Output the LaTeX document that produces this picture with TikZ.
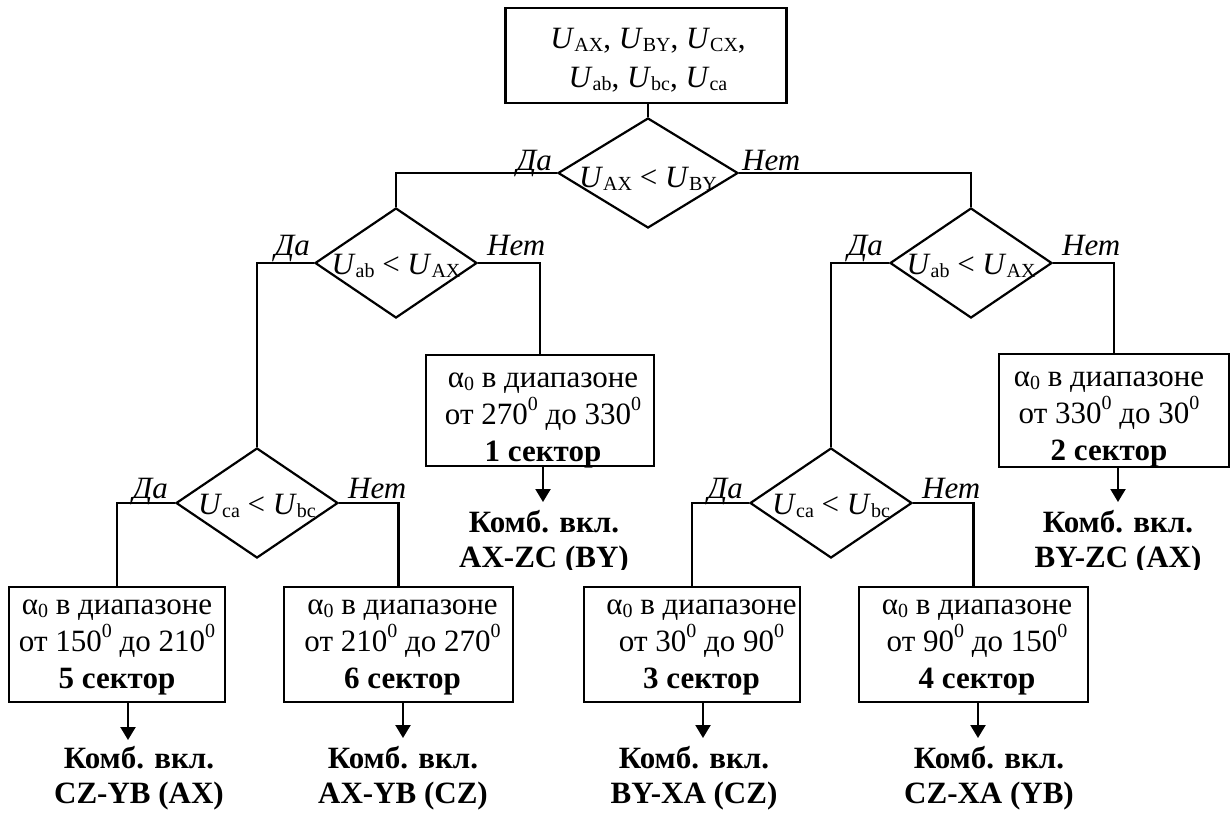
\documentclass[tikz,border=0pt]{standalone}
\usepackage{fontspec}
\setmainfont{Liberation Serif}
\usetikzlibrary{shapes.geometric,arrows.meta}
\newcommand\sbs[1]{\raisebox{-3pt}{\fontsize{20}{20}\selectfont #1}}
\newcommand\dg{\raisebox{13.5pt}{\fontsize{20}{20}\selectfont 0}}
\newcommand\Uv[1]{\textit{U}\sbs{#1}}
\newcommand\dtx[2][11]{\makebox[0pt]{\raisebox{-#1pt}[0pt][0pt]{#2}}}
\begin{document}
\begin{tikzpicture}[x=1pt,y=-1pt,
  every node/.style={inner sep=0pt, font=\fontsize{31}{37}\selectfont},
  ln/.style={line width=2.2pt},
  dec/.style={draw, line width=2.2pt, diamond, minimum width=162pt, minimum height=110pt},
  blk/.style={draw, line width=2.2pt, rectangle},
  txt/.style={align=center, anchor=base},
  lyes/.style={anchor=base east, font=\fontsize{31}{37}\selectfont\itshape},
  lno/.style={anchor=base west, font=\fontsize{31}{37}\selectfont\itshape},
  res/.style={align=center, anchor=base, font=\fontsize{31}{35}\selectfont\bfseries},
  arr/.style={line width=2.2pt, -{Triangle[length=13pt,width=15pt]}}]
\useasboundingbox (0,0) rectangle (1232,812);
\fill[white] (0,0) rectangle (1232,812);
% top box
\node[blk, minimum width=281pt, minimum height=95pt] (top) at (646,55.5) {};
\node[txt, font=\fontsize{31}{39}\selectfont] (toptxt) at (648,87) {\Uv{AX}, \Uv{BY}, \Uv{CX},\\ \Uv{ab}, \Uv{bc}, \Uv{ca}};
% decisions
\node[dec, minimum width=180pt] (d1) at (648,173) {\dtx[14]{\Uv{AX} < \Uv{BY}}};
\node[dec] (d2) at (396,263) {\dtx{\Uv{ab} < \Uv{AX}}};
\node[dec] (d3) at (257,503) {\dtx{\Uv{ca} < \Uv{bc}}};
\node[dec] (d4) at (831,503) {\dtx{\Uv{ca} < \Uv{bc}}};
\node[dec] (d5) at (971,263) {\dtx{\Uv{ab} < \Uv{AX}}};
% boxes
\node[blk, minimum width=228pt, minimum height=111pt] (b1) at (540,410.5) {};
\node[blk, minimum width=230pt, minimum height=113pt] (b2) at (1114,410.5) {};
\node[blk, minimum width=216pt, minimum height=115pt] (b3) at (692,644.5) {};
\node[blk, minimum width=229pt, minimum height=115pt] (b4) at (973.5,644.5) {};
\node[blk, minimum width=216pt, minimum height=115pt] (b5) at (117,644.5) {};
\node[blk, minimum width=229pt, minimum height=115pt] (b6) at (398.5,644.5) {};
\node[txt] (t1) at (543,461) {α\sbs{0} в диапазоне\\от 270\dg\ до 330\dg\\\textbf{1 сектор}};
\node[txt] (t2) at (1109,460) {α\sbs{0} в диапазоне\\от 330\dg\ до 30\dg\\\textbf{2 сектор}};
\node[txt] (t3) at (701.5,688) {α\sbs{0} в диапазоне\\от 30\dg\ до 90\dg\\\textbf{3 сектор}};
\node[txt] (t4) at (977,688) {α\sbs{0} в диапазоне\\от 90\dg\ до 150\dg\\\textbf{4 сектор}};
\node[txt] (t5) at (117,688) {α\sbs{0} в диапазоне\\от 150\dg\ до 210\dg\\\textbf{5 сектор}};
\node[txt] (t6) at (402.5,688) {α\sbs{0} в диапазоне\\от 210\dg\ до 270\dg\\\textbf{6 сектор}};
% results
\begin{scope}
\clip (0,0) rectangle (1232,569);
\node[res] (k1) at (544,567) {Комб. вкл.\\AX-ZC (BY)};
\node[res] (k2) at (1118,567) {Комб. вкл.\\BY-ZC (AX)};
\end{scope}
\node[res] (k3) at (694,803) {Комб. вкл.\\BY-XA (CZ)};
\node[res] (k4) at (989,803) {Комб. вкл.\\CZ-XA (YB)};
\node[res] (k5) at (139,803) {Комб. вкл.\\CZ-YB (AX)};
\node[res] (k6) at (403,803) {Комб. вкл.\\AX-YB (CZ)};
% labels
\node[lyes] (y1) at (552,170) {Да};
\node[lno] (n1) at (742,170) {Нет};
\node[lyes] (y2) at (310,255) {Да};
\node[lno] (n2) at (487,255) {Нет};
\node[lyes] (y3) at (168,498) {Да};
\node[lno] (n3) at (348,498) {Нет};
\node[lyes] (y4) at (743,498) {Да};
\node[lno] (n4) at (922,498) {Нет};
\node[lyes] (y5) at (883,255) {Да};
\node[lno] (n5) at (1062,255) {Нет};
% connectors
\draw[ln] (top.south -| d1.north) -- (d1.north);
\draw[ln] (d1.west) -| (d2.north);
\draw[ln] (d1.east) -| (d5.north);
\draw[ln] (d2.west) -| (d3.north);
\draw[ln] (d2.east) -| (b1.north);
\draw[ln] (d5.west) -| (d4.north);
\draw[ln] (d5.east) -| (b2.north);
\draw[ln] (d3.west) -| (b5.north);
\draw[ln] (d3.east) -| (b6.north);
\draw[ln] (d4.west) -| (b3.north);
\draw[ln] (d4.east) -| (b4.north);
% arrows
\coordinate (e1) at (543,502);
\coordinate (e2) at (1118,502);
\coordinate (e3) at (703,738);
\coordinate (e4) at (978,738);
\coordinate (e5) at (128,740);
\coordinate (e6) at (403,738);
\draw[arr] (e1 |- b1.south) -- (e1);
\draw[arr] (e2 |- b2.south) -- (e2);
\draw[arr] (e3 |- b3.south) -- (e3);
\draw[arr] (e4 |- b4.south) -- (e4);
\draw[arr] (e5 |- b5.south) -- (e5);
\draw[arr] (e6 |- b6.south) -- (e6);
\end{tikzpicture}
\end{document}
